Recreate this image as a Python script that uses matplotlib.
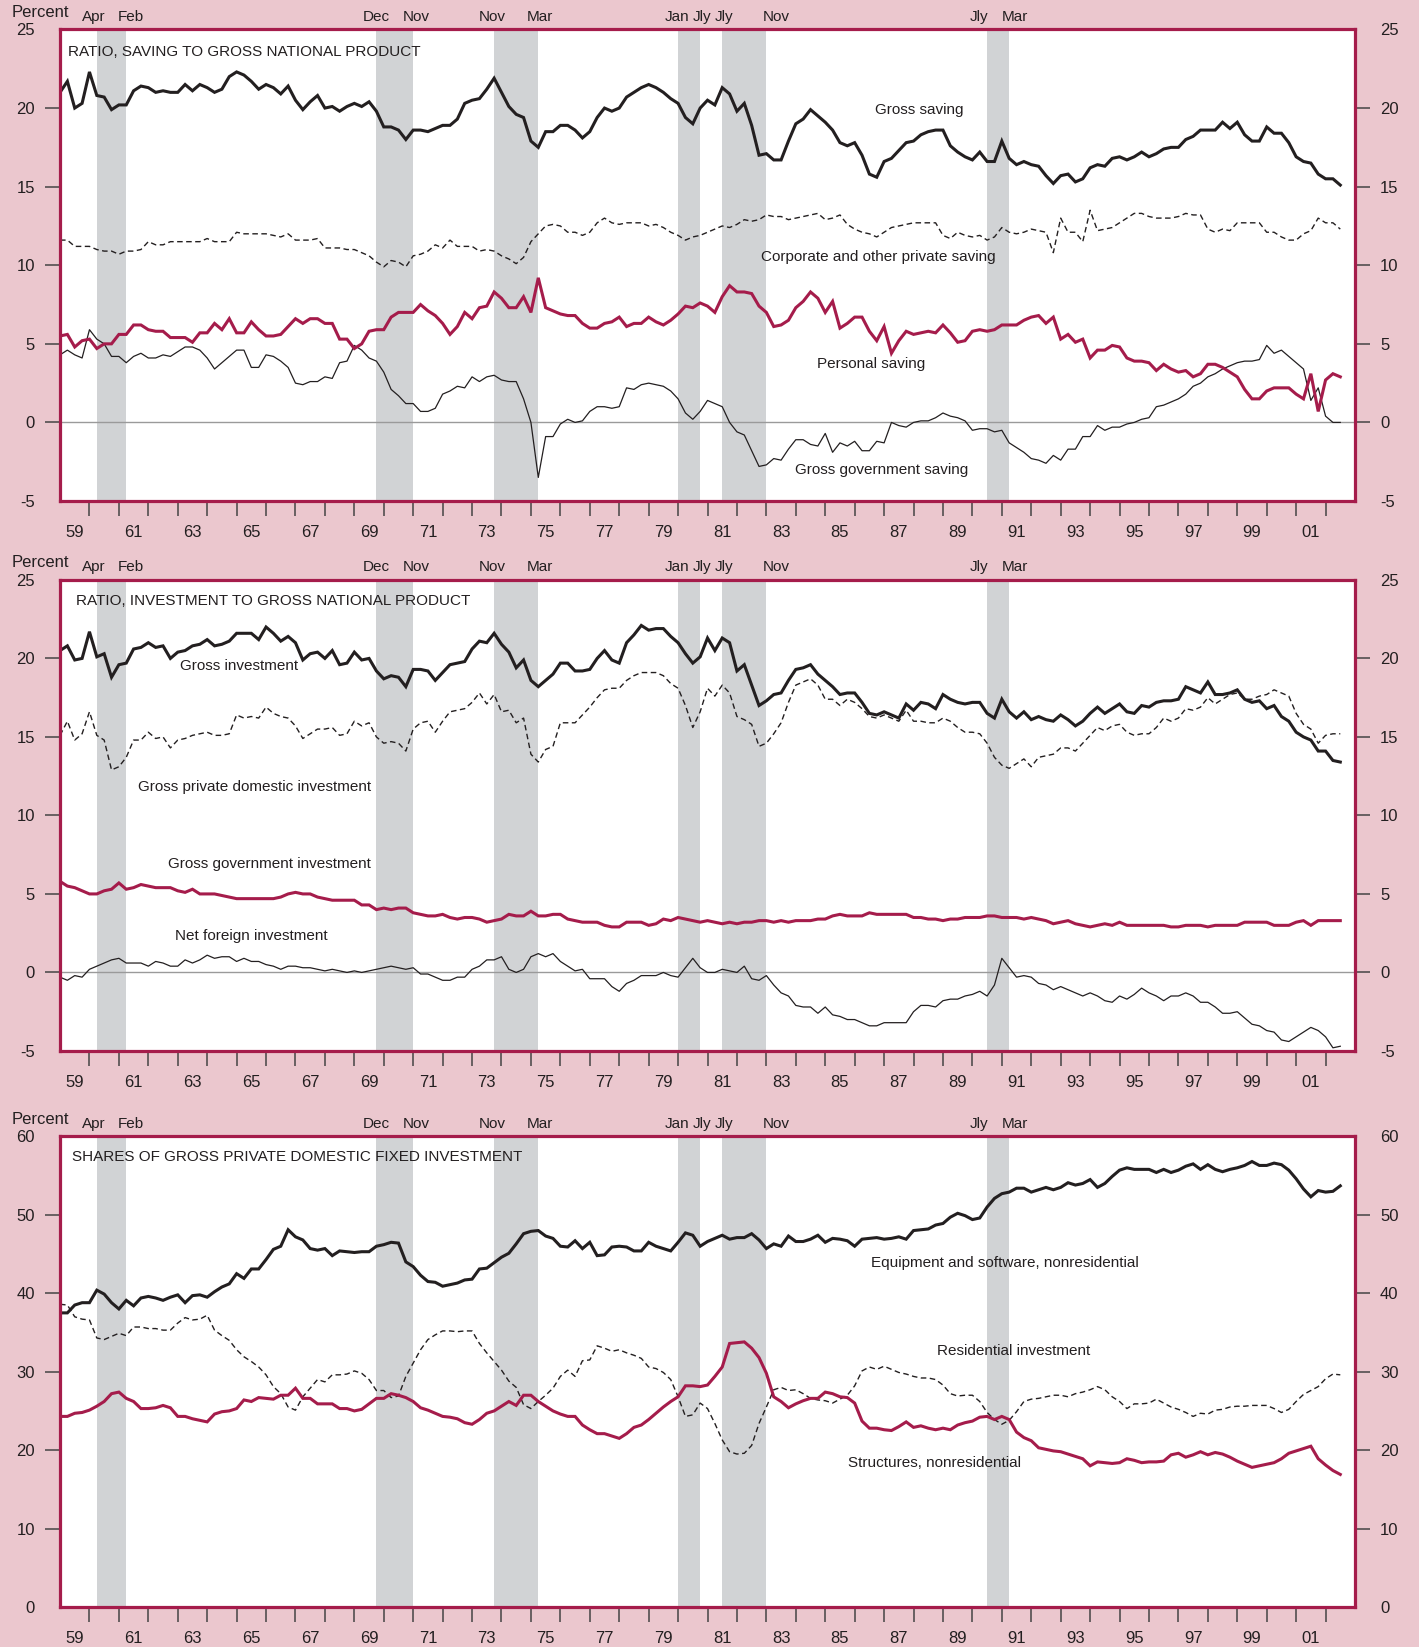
import matplotlib
matplotlib.use('Agg')

import matplotlib.pyplot as plt
import numpy as np
from matplotlib import font_manager

# quarterly observations, first one is 1959:Q1
START_YEAR = 1959

# --- saving, percent of GNP ---
gross_saving = [
    21.0, 21.7, 20.0, 20.3, 22.3, 20.8, 20.7, 19.9, 20.2, 20.2, 21.1, 21.4,
    21.3, 21.0, 21.1, 21.0, 21.0, 21.5, 21.1, 21.5, 21.3, 21.0, 21.2, 22.0,
    22.3, 22.1, 21.7, 21.2, 21.5, 21.3, 20.9, 21.4, 20.5, 19.9, 20.4, 20.8,
    20.0, 20.1, 19.8, 20.1, 20.3, 20.1, 20.4, 19.8, 18.8, 18.8, 18.6, 18.0,
    18.6, 18.6, 18.5, 18.7, 18.9, 18.9, 19.3, 20.3, 20.5, 20.6, 21.2, 21.9,
    21.0, 20.1, 19.6, 19.4, 17.9, 17.5, 18.5, 18.5, 18.9, 18.9, 18.6, 18.1,
    18.5, 19.4, 20.0, 19.8, 20.0, 20.7, 21.0, 21.3, 21.5, 21.3, 21.0, 20.6,
    20.3, 19.4, 19.0, 20.0, 20.5, 20.2, 21.3, 20.9, 19.8, 20.3, 18.9, 17.0,
    17.1, 16.7, 16.7, 17.9, 19.0, 19.3, 19.9, 19.5, 19.1, 18.6, 17.8, 17.6,
    17.8, 17.0, 15.8, 15.6, 16.6, 16.8, 17.3, 17.8, 17.9, 18.3, 18.5, 18.6,
    18.6, 17.6, 17.2, 16.9, 16.7, 17.2, 16.6, 16.6, 17.9, 16.8, 16.4, 16.6,
    16.4, 16.3, 15.7, 15.2, 15.7, 15.8, 15.3, 15.5, 16.2, 16.4, 16.3, 16.8,
    16.9, 16.7, 16.9, 17.2, 16.9, 17.1, 17.4, 17.5, 17.5, 18.0, 18.2, 18.6,
    18.6, 18.6, 19.1, 18.7, 19.1, 18.3, 17.9, 17.9, 18.8, 18.4, 18.4, 17.8,
    16.9, 16.6, 16.5, 15.8, 15.5, 15.5, 15.1]

corporate_saving = [
    11.6, 11.6, 11.2, 11.2, 11.2, 11.0, 10.9, 10.9, 10.7, 10.9, 10.9, 11.0,
    11.5, 11.3, 11.3, 11.5, 11.5, 11.5, 11.5, 11.5, 11.7, 11.5, 11.5, 11.5,
    12.1, 12.0, 12.0, 12.0, 12.0, 11.9, 11.8, 12.0, 11.6, 11.6, 11.6, 11.7,
    11.1, 11.1, 11.1, 11.0, 11.0, 10.8, 10.6, 10.2, 9.9, 10.3, 10.2, 9.9,
    10.6, 10.7, 10.9, 11.3, 11.1, 11.6, 11.2, 11.2, 11.2, 10.9, 11.0, 10.9,
    10.6, 10.4, 10.1, 10.5, 11.5, 12.0, 12.5, 12.6, 12.5, 12.1, 12.1, 11.9,
    12.1, 12.7, 13.0, 12.7, 12.6, 12.7, 12.7, 12.7, 12.5, 12.6, 12.4, 12.1,
    11.9, 11.6, 11.8, 11.9, 12.1, 12.3, 12.5, 12.4, 12.6, 12.9, 12.8, 12.9,
    13.2, 13.1, 13.1, 12.9, 13.0, 13.1, 13.2, 13.3, 12.9, 13.0, 13.2, 12.6,
    12.3, 12.1, 12.0, 11.8, 12.1, 12.4, 12.5, 12.6, 12.7, 12.7, 12.7, 12.7,
    11.9, 11.7, 12.1, 11.9, 11.8, 11.9, 11.6, 11.8, 12.4, 12.1, 12.0, 12.1,
    12.3, 12.2, 12.1, 10.8, 13.0, 12.1, 12.1, 11.5, 13.5, 12.2, 12.3, 12.4,
    12.7, 13.0, 13.3, 13.3, 13.1, 13.0, 13.0, 13.0, 13.1, 13.3, 13.2, 13.2,
    12.3, 12.1, 12.3, 12.2, 12.7, 12.7, 12.7, 12.7, 12.1, 12.1, 11.8, 11.6,
    11.6, 12.0, 12.2, 13.0, 12.7, 12.7, 12.3]

personal_saving = [
    5.5, 5.6, 4.8, 5.2, 5.3, 4.7, 5.0, 5.0, 5.6, 5.6, 6.2, 6.2,
    5.9, 5.8, 5.8, 5.4, 5.4, 5.4, 5.1, 5.7, 5.7, 6.3, 5.9, 6.6,
    5.7, 5.7, 6.4, 5.9, 5.5, 5.5, 5.6, 6.1, 6.6, 6.3, 6.6, 6.6,
    6.3, 6.3, 5.3, 5.3, 4.7, 5.0, 5.8, 5.9, 5.9, 6.7, 7.0, 7.0,
    7.0, 7.5, 7.1, 6.8, 6.3, 5.6, 6.1, 7.0, 6.6, 7.3, 7.4, 8.3,
    7.9, 7.3, 7.3, 8.0, 7.0, 9.2, 7.3, 7.1, 6.9, 6.8, 6.8, 6.3,
    6.0, 6.0, 6.3, 6.4, 6.7, 6.1, 6.3, 6.3, 6.7, 6.4, 6.2, 6.5,
    6.9, 7.4, 7.3, 7.6, 7.4, 7.0, 8.0, 8.7, 8.3, 8.3, 8.2, 7.4,
    7.0, 6.1, 6.2, 6.5, 7.3, 7.7, 8.3, 7.9, 7.0, 7.7, 6.0, 6.3,
    6.7, 6.7, 5.8, 5.2, 6.1, 4.4, 5.2, 5.8, 5.6, 5.7, 5.8, 5.7,
    6.2, 5.7, 5.1, 5.2, 5.8, 5.9, 5.8, 5.9, 6.2, 6.2, 6.2, 6.5,
    6.7, 6.8, 6.3, 6.7, 5.3, 5.6, 5.1, 5.3, 4.1, 4.6, 4.6, 4.9,
    4.8, 4.1, 3.9, 3.9, 3.8, 3.3, 3.7, 3.4, 3.2, 3.3, 2.9, 3.1,
    3.7, 3.7, 3.5, 3.2, 2.9, 2.1, 1.5, 1.5, 2.0, 2.2, 2.2, 2.2,
    1.8, 1.5, 3.1, 0.7, 2.7, 3.1, 2.9]

government_saving = [
    4.3, 4.6, 4.3, 4.1, 5.9, 5.3, 5.0, 4.2, 4.2, 3.8, 4.2, 4.4,
    4.1, 4.1, 4.3, 4.2, 4.5, 4.8, 4.8, 4.6, 4.1, 3.4, 3.8, 4.2,
    4.6, 4.6, 3.5, 3.5, 4.3, 4.2, 3.9, 3.5, 2.5, 2.4, 2.6, 2.6,
    2.9, 2.8, 3.8, 3.9, 4.9, 4.6, 4.1, 3.9, 3.2, 2.1, 1.7, 1.2,
    1.2, 0.7, 0.7, 0.9, 1.8, 2.0, 2.3, 2.2, 2.9, 2.6, 2.9, 3.0,
    2.7, 2.6, 2.6, 1.5, 0.0, -3.5, -0.9, -0.9, -0.1, 0.2, 0.0, 0.1,
    0.7, 1.0, 1.0, 0.9, 1.0, 2.2, 2.1, 2.4, 2.5, 2.4, 2.3, 2.0,
    1.5, 0.6, 0.2, 0.7, 1.4, 1.2, 1.0, 0.0, -0.6, -0.8, -1.8, -2.8,
    -2.7, -2.3, -2.4, -1.7, -1.1, -1.1, -1.4, -1.5, -0.7, -1.9, -1.3, -1.5,
    -1.2, -1.8, -1.8, -1.2, -1.3, 0.0, -0.2, -0.3, 0.0, 0.1, 0.1, 0.3,
    0.6, 0.4, 0.3, 0.1, -0.5, -0.4, -0.4, -0.6, -0.5, -1.3, -1.6, -1.9,
    -2.3, -2.4, -2.6, -2.1, -2.4, -1.7, -1.7, -0.9, -0.9, -0.2, -0.5, -0.3,
    -0.3, -0.1, 0.0, 0.2, 0.3, 1.0, 1.1, 1.3, 1.5, 1.8, 2.3, 2.5,
    2.9, 3.1, 3.4, 3.6, 3.8, 3.9, 3.9, 4.0, 4.9, 4.4, 4.6, 4.2,
    3.8, 3.4, 1.4, 2.2, 0.4, 0.0, 0.0]

# --- investment, percent of GNP ---
gross_investment = [
    20.5, 20.8, 19.9, 20.0, 21.7, 20.1, 20.3, 18.8, 19.6, 19.7, 20.6, 20.7,
    21.0, 20.7, 20.8, 20.0, 20.4, 20.5, 20.8, 20.9, 21.2, 20.8, 20.9, 21.1,
    21.6, 21.6, 21.6, 21.2, 22.0, 21.6, 21.1, 21.4, 21.0, 19.9, 20.3, 20.4,
    20.0, 20.5, 19.6, 19.7, 20.4, 19.9, 20.0, 19.2, 18.7, 18.9, 18.8, 18.2,
    19.3, 19.3, 19.2, 18.6, 19.1, 19.6, 19.7, 19.8, 20.6, 21.1, 21.0, 21.6,
    20.9, 20.4, 19.4, 19.9, 18.6, 18.2, 18.6, 19.0, 19.7, 19.7, 19.2, 19.2,
    19.3, 20.0, 20.5, 19.9, 19.7, 21.0, 21.5, 22.1, 21.8, 21.9, 21.9, 21.4,
    21.0, 20.3, 19.7, 20.1, 21.3, 20.5, 21.3, 21.0, 19.2, 19.6, 18.3, 17.0,
    17.3, 17.7, 17.8, 18.6, 19.3, 19.4, 19.6, 19.0, 18.6, 18.2, 17.7, 17.8,
    17.8, 17.2, 16.5, 16.4, 16.6, 16.4, 16.2, 17.1, 16.7, 17.2, 17.1, 16.8,
    17.7, 17.4, 17.2, 17.1, 17.2, 17.2, 16.5, 16.2, 17.4, 16.6, 16.2, 16.6,
    16.1, 16.3, 16.1, 16.0, 16.4, 16.1, 15.7, 16.0, 16.5, 16.9, 16.5, 16.8,
    17.1, 16.6, 16.5, 17.0, 16.9, 17.2, 17.3, 17.3, 17.4, 18.2, 18.0, 17.8,
    18.5, 17.7, 17.7, 17.8, 18.0, 17.4, 17.2, 17.3, 16.8, 17.0, 16.3, 16.0,
    15.3, 15.0, 14.8, 14.1, 14.1, 13.5, 13.4]

private_investment = [
    15.1, 16.0, 14.8, 15.2, 16.6, 15.1, 14.8, 12.9, 13.1, 13.7, 14.8, 14.8,
    15.3, 14.9, 15.0, 14.3, 14.8, 14.9, 15.1, 15.2, 15.3, 15.1, 15.1, 15.2,
    16.4, 16.2, 16.3, 16.2, 16.9, 16.5, 16.3, 16.2, 15.7, 14.9, 15.2, 15.5,
    15.5, 15.6, 15.1, 15.2, 16.0, 15.7, 15.9, 15.0, 14.6, 14.7, 14.6, 14.1,
    15.5, 15.9, 16.0, 15.3, 16.0, 16.6, 16.7, 16.8, 17.2, 17.8, 17.1, 17.7,
    16.6, 16.7, 15.9, 16.2, 13.9, 13.4, 14.2, 14.4, 15.9, 15.9, 15.9, 16.4,
    16.9, 17.5, 18.0, 18.1, 18.1, 18.6, 18.9, 19.1, 19.1, 19.1, 18.9, 18.4,
    18.1, 17.0, 15.6, 16.6, 18.1, 17.6, 18.3, 17.8, 16.3, 16.1, 15.8, 14.4,
    14.6, 15.2, 15.9, 17.2, 18.3, 18.5, 18.7, 18.3, 17.4, 17.4, 17.0, 17.4,
    17.2, 16.8, 16.3, 16.2, 16.4, 16.2, 16.0, 16.7, 16.0, 16.0, 15.9, 15.9,
    16.2, 16.0, 15.6, 15.3, 15.3, 15.2, 14.6, 13.7, 13.2, 13.0, 13.3, 13.6,
    13.1, 13.7, 13.8, 13.9, 14.3, 14.3, 14.1, 14.6, 15.1, 15.6, 15.4, 15.7,
    15.8, 15.3, 15.1, 15.2, 15.2, 15.6, 16.2, 16.0, 16.2, 16.8, 16.7, 16.9,
    17.5, 17.1, 17.4, 17.7, 17.8, 17.4, 17.4, 17.6, 17.7, 18.0, 17.8, 17.6,
    16.5, 15.8, 15.5, 14.6, 15.1, 15.2, 15.2]

government_investment = [
    5.8, 5.5, 5.4, 5.2, 5.0, 5.0, 5.2, 5.3, 5.7, 5.3, 5.4, 5.6,
    5.5, 5.4, 5.4, 5.4, 5.2, 5.1, 5.3, 5.0, 5.0, 5.0, 4.9, 4.8,
    4.7, 4.7, 4.7, 4.7, 4.7, 4.7, 4.8, 5.0, 5.1, 5.0, 5.0, 4.8,
    4.7, 4.6, 4.6, 4.6, 4.6, 4.3, 4.3, 4.0, 4.1, 4.0, 4.1, 4.1,
    3.8, 3.7, 3.6, 3.6, 3.7, 3.5, 3.4, 3.5, 3.5, 3.4, 3.2, 3.3,
    3.4, 3.7, 3.6, 3.6, 3.9, 3.6, 3.6, 3.7, 3.7, 3.4, 3.3, 3.2,
    3.2, 3.2, 3.0, 2.9, 2.9, 3.2, 3.2, 3.2, 3.0, 3.1, 3.4, 3.3,
    3.5, 3.4, 3.3, 3.2, 3.3, 3.2, 3.1, 3.2, 3.1, 3.2, 3.2, 3.3,
    3.3, 3.2, 3.3, 3.2, 3.3, 3.3, 3.3, 3.4, 3.4, 3.6, 3.7, 3.6,
    3.6, 3.6, 3.8, 3.7, 3.7, 3.7, 3.7, 3.7, 3.5, 3.5, 3.4, 3.4,
    3.3, 3.4, 3.4, 3.5, 3.5, 3.5, 3.6, 3.6, 3.5, 3.5, 3.5, 3.4,
    3.5, 3.4, 3.3, 3.1, 3.2, 3.3, 3.1, 3.0, 2.9, 3.0, 3.1, 3.0,
    3.2, 3.0, 3.0, 3.0, 3.0, 3.0, 3.0, 2.9, 2.9, 3.0, 3.0, 3.0,
    2.9, 3.0, 3.0, 3.0, 3.0, 3.2, 3.2, 3.2, 3.2, 3.0, 3.0, 3.0,
    3.2, 3.3, 3.0, 3.3, 3.3, 3.3, 3.3]

net_foreign_investment = [
    -0.3, -0.5, -0.2, -0.3, 0.2, 0.4, 0.6, 0.8, 0.9, 0.6, 0.6, 0.6,
    0.4, 0.7, 0.6, 0.4, 0.4, 0.8, 0.6, 0.8, 1.1, 0.9, 1.0, 1.0,
    0.7, 0.9, 0.7, 0.7, 0.5, 0.4, 0.2, 0.4, 0.4, 0.3, 0.3, 0.2,
    0.1, 0.2, 0.1, 0.0, 0.1, 0.0, 0.1, 0.2, 0.3, 0.4, 0.3, 0.2,
    0.3, -0.1, -0.1, -0.3, -0.5, -0.5, -0.3, -0.3, 0.2, 0.4, 0.8, 0.8,
    1.0, 0.2, 0.0, 0.2, 1.0, 1.2, 1.0, 1.2, 0.7, 0.4, 0.1, 0.2,
    -0.4, -0.4, -0.4, -0.9, -1.2, -0.7, -0.5, -0.2, -0.2, -0.2, 0.0, -0.2,
    -0.3, 0.3, 0.9, 0.3, 0.0, 0.0, 0.2, 0.1, 0.0, 0.4, -0.4, -0.5,
    -0.2, -0.8, -1.3, -1.5, -2.1, -2.2, -2.2, -2.6, -2.2, -2.7, -2.8, -3.0,
    -3.0, -3.2, -3.4, -3.4, -3.2, -3.2, -3.2, -3.2, -2.5, -2.1, -2.1, -2.2,
    -1.8, -1.7, -1.7, -1.5, -1.4, -1.2, -1.5, -0.8, 0.9, 0.3, -0.3, -0.2,
    -0.3, -0.7, -0.8, -1.1, -0.9, -1.1, -1.3, -1.5, -1.3, -1.5, -1.8, -1.9,
    -1.5, -1.7, -1.4, -1.0, -1.3, -1.5, -1.8, -1.5, -1.5, -1.3, -1.5, -1.9,
    -1.9, -2.2, -2.6, -2.6, -2.5, -2.9, -3.3, -3.4, -3.7, -3.8, -4.3, -4.4,
    -4.1, -3.8, -3.5, -3.7, -4.1, -4.8, -4.7]

# --- shares of gross private domestic fixed investment, percent ---
equipment_share = [
    37.5, 37.5, 38.5, 38.8, 38.8, 40.4, 39.9, 38.8, 38.0, 39.1,
    38.4, 39.4, 39.6, 39.4, 39.1, 39.5, 39.8, 38.8, 39.7, 39.8,
    39.5, 40.2, 40.8, 41.2, 42.5, 41.9, 43.1, 43.1, 44.3, 45.6,
    46.0, 48.1, 47.2, 46.8, 45.7, 45.5, 45.7, 44.8, 45.4, 45.3,
    45.2, 45.3, 45.3, 46.0, 46.2, 46.5, 46.4, 44.0, 43.4, 42.3,
    41.5, 41.4, 40.9, 41.1, 41.3, 41.7, 41.8, 43.1, 43.2, 43.9,
    44.6, 45.1, 46.3, 47.6, 47.9, 48.0, 47.3, 47.0, 46.0, 45.9,
    46.7, 45.7, 46.5, 44.8, 44.9, 45.9, 46.0, 45.9, 45.4, 45.4,
    46.5, 46.0, 45.7, 45.4, 46.5, 47.7, 47.4, 46.0,
    46.6, 47.0, 47.4, 46.9, 47.1, 47.1, 47.6, 46.8, 45.7, 46.3,
    46.0, 47.3, 46.6, 46.6, 46.9, 47.4, 46.5, 47.0, 46.9, 46.7,
    46.0, 46.9, 47.0, 47.1, 46.9, 47.0, 47.2, 46.9, 48.0, 48.1,
    48.2, 48.7, 48.9, 49.7, 50.2, 49.9, 49.4, 49.6, 51.0, 52.1,
    52.7, 52.9, 53.4, 53.4, 52.9, 53.2, 53.5, 53.2, 53.5, 54.1,
    53.8, 54.0, 54.5, 53.5, 54.0, 54.9, 55.7, 56.0, 55.8, 55.8,
    55.8, 55.4, 55.8, 55.4, 55.7, 56.2, 56.5, 55.8, 56.4, 55.8,
    55.5, 55.8, 56.0, 56.3, 56.8, 56.3, 56.3, 56.6, 56.4, 55.7,
    54.6, 53.3, 52.3, 53.1, 52.9, 53.0, 53.7]

residential_share = [
    38.6, 38.5, 37.0, 36.7, 36.6, 34.3, 34.1, 34.5, 34.9, 34.6,
    35.7, 35.7, 35.5, 35.5, 35.3, 35.3, 36.2, 36.9, 36.6, 36.7,
    37.2, 35.3, 34.6, 34.0, 32.8, 31.9, 31.3, 30.6, 29.6, 28.1,
    27.2, 25.5, 25.1, 26.8, 27.9, 29.0, 28.7, 29.6, 29.6, 29.7,
    30.1, 29.8, 29.0, 27.6, 27.6, 26.7, 26.9, 29.4, 31.1, 32.8,
    34.1, 34.7, 35.2, 35.2, 35.1, 35.2, 35.2, 33.6, 32.4, 31.3,
    30.2, 28.8, 28.0, 25.8, 25.3, 26.2, 27.0, 27.9, 29.4, 30.2,
    29.4, 31.4, 31.5, 33.3, 33.0, 32.6, 32.8, 32.4, 32.1, 31.7,
    30.6, 30.4, 29.9, 29.0, 26.8, 24.3, 24.5, 26.0,
    25.3, 23.4, 21.3, 19.8, 19.5, 19.6, 20.6, 23.4, 25.5, 27.7,
    28.0, 27.6, 27.7, 27.2, 26.6, 26.4, 26.3, 26.0, 26.5, 27.0,
    28.2, 30.1, 30.6, 30.3, 30.7, 30.3, 29.9, 29.7, 29.4, 29.2,
    29.2, 29.0, 28.3, 27.2, 26.9, 27.0, 27.0, 26.2, 24.8, 23.9,
    23.3, 23.8, 24.9, 26.2, 26.5, 26.6, 26.8, 27.0, 27.0, 26.8,
    27.2, 27.4, 27.7, 28.1, 27.7, 26.8, 26.2, 25.3, 25.9, 25.9,
    26.0, 26.5, 26.0, 25.5, 25.2, 24.8, 24.3, 24.7, 24.6, 25.1,
    25.2, 25.5, 25.6, 25.6, 25.7, 25.7, 25.7, 25.3, 24.8, 25.2,
    26.2, 27.1, 27.6, 28.1, 29.1, 29.7, 29.6]

structures_share = [
    24.3, 24.3, 24.7, 24.8, 25.1, 25.6, 26.2, 27.2, 27.4, 26.6,
    26.2, 25.3, 25.3, 25.4, 25.7, 25.4, 24.3, 24.3, 24.0, 23.8,
    23.6, 24.6, 24.9, 25.0, 25.3, 26.4, 26.2, 26.7, 26.6, 26.5,
    27.0, 27.0, 27.9, 26.6, 26.6, 25.9, 25.9, 25.9, 25.3, 25.3,
    25.0, 25.2, 25.9, 26.6, 26.6, 27.2, 27.0, 26.7, 26.2, 25.4,
    25.1, 24.7, 24.3, 24.2, 24.0, 23.5, 23.3, 23.9, 24.7, 25.0,
    25.6, 26.2, 25.7, 27.0, 27.0, 26.2, 25.6, 25.0, 24.6, 24.3,
    24.3, 23.2, 22.6, 22.1, 22.1, 21.8, 21.5, 22.1, 22.9, 23.2,
    23.9, 24.7, 25.5, 26.2, 26.8, 28.2, 28.2, 28.1,
    28.3, 29.4, 30.6, 33.6, 33.7, 33.8, 33.0, 31.8, 29.8, 26.8,
    26.2, 25.4, 25.9, 26.3, 26.6, 26.6, 27.4, 27.2, 26.8, 26.7,
    26.0, 23.7, 22.8, 22.8, 22.6, 22.5, 23.0, 23.6, 22.9, 23.1,
    22.8, 22.6, 22.8, 22.6, 23.2, 23.5, 23.7, 24.2, 24.3, 23.9,
    24.3, 23.9, 22.3, 21.6, 21.2, 20.3, 20.1, 19.9, 19.8, 19.5,
    19.2, 18.9, 18.0, 18.5, 18.4, 18.3, 18.4, 18.9, 18.7, 18.4,
    18.5, 18.5, 18.6, 19.4, 19.6, 19.1, 19.4, 19.8, 19.4, 19.7,
    19.5, 19.1, 18.6, 18.2, 17.8, 18.0, 18.2, 18.4, 18.9, 19.6,
    19.9, 20.2, 20.5, 18.9, 18.1, 17.4, 16.9]

# recessions, shaded by quarter (start, end in years)
recessions = [(1960.25, 1961.25), (1969.75, 1971.0), (1973.75, 1975.25),
              (1980.0, 1980.75), (1981.5, 1983.0), (1990.5, 1991.25)]
recession_months = ['Apr', 'Feb', 'Dec', 'Nov', 'Nov', 'Mar',
                    'Jan', 'Jly', 'Jly', 'Nov', 'Jly', 'Mar']
# where the month names sit above the frame
recession_month_x = [1960.14, 1961.39, 1969.74, 1971.1, 1973.7, 1975.31,
                     1979.95, 1980.81, 1981.56, 1983.34, 1990.23, 1991.44]

PINK = '#ebc7ce'
CRIMSON = '#a51c4b'
BAND = '#d1d3d5'
INK = '#231f20'

names = set(f.name for f in font_manager.fontManager.ttflist)
if 'Liberation Sans Narrow' in names:
    NARROW, NSIZE = 'Liberation Sans Narrow', 13
else:
    NARROW, NSIZE = 'Liberation Sans', 11
plt.rcParams['font.family'] = ['Liberation Sans', 'DejaVu Sans']
plt.rcParams['text.color'] = INK


def quarters(series):
    return START_YEAR + np.arange(len(series)) / 4.0


def setup_panel(ax, title, title_off, yticks):
    ax.set_xlim(1959, 2003)
    ax.set_ylim(yticks[0], yticks[-1])
    for (a, b) in recessions:
        ax.axvspan(a, b, color=BAND, lw=0, zorder=0)

    for sp in ax.spines.values():
        sp.set_color(CRIMSON)
        sp.set_linewidth(2.3)
        sp.set_zorder(10)

    # y axis on both sides
    ax.set_yticks(yticks)
    ax.set_yticklabels([str(v) for v in yticks])
    ax.tick_params(axis='y', direction='out', length=11, width=1.1, color='#444444',
                   labelsize=12, pad=7, left=True, right=True,
                   labelleft=True, labelright=True, labelcolor=INK)
    ticks = ax.yaxis.get_major_ticks()
    for t in (ticks[0], ticks[-1]):
        t.tick1line.set_visible(False)
        t.tick2line.set_visible(False)

    # x axis: ticks at year boundaries, labels centred on odd years
    ax.set_xticks(np.arange(1960, 2003))
    ax.set_xticklabels([])
    odd = np.arange(1959, 2003, 2)
    ax.set_xticks(odd + 0.5, minor=True)
    ax.set_xticklabels(['%02d' % (y % 100) for y in odd], minor=True)
    ax.tick_params(axis='x', which='major', direction='out', length=10.5,
                   width=1.1, color='#444444')
    ax.tick_params(axis='x', which='minor', length=0, pad=17, labelsize=12,
                   labelcolor=INK)

    ax.annotate(title, xy=(0, 1), xycoords='axes fraction', xytext=title_off,
                textcoords='offset points', ha='left', va='center',
                family=NARROW, fontsize=NSIZE)
    ax.annotate('Percent', xy=(0, 1), xycoords='axes fraction', xytext=(-14, 12.5),
                textcoords='offset points', ha='center', va='center', fontsize=12)
    for name, xm in zip(recession_months, recession_month_x):
        ax.annotate(name, xy=(xm, 1), xycoords=('data', 'axes fraction'),
                    xytext=(0, 4), textcoords='offset points', ha='center',
                    va='bottom', family=NARROW, fontsize=NSIZE)


def label(ax, x, y, s):
    ax.text(x, y, s, ha='center', va='center', family=NARROW, fontsize=NSIZE, zorder=6)


def thick(ax, s, color=INK):
    ax.plot(quarters(s), s, color=color, lw=2.2, zorder=5, solid_joinstyle='miter')


def thin(ax, s):
    ax.plot(quarters(s), s, color=INK, lw=0.9, zorder=4)


def dashed(ax, s):
    ax.plot(quarters(s), s, color=INK, lw=1.0, dashes=(4, 2.5), zorder=4)


fig = plt.figure(figsize=(14.19, 16.47), dpi=100)
fig.patch.set_facecolor(PINK)

left, width = 0.0423, 0.9126
ax1 = fig.add_axes([left, 0.6958, width, 0.2863])
ax2 = fig.add_axes([left, 0.3619, width, 0.2860])
ax3 = fig.add_axes([left, 0.0243, width, 0.2857])

# saving
setup_panel(ax1, 'RATIO, SAVING TO GROSS NATIONAL PRODUCT', (5.5, -16.5),
            [-5, 0, 5, 10, 15, 20, 25])
ax1.axhline(0, color='#9a9a9a', lw=1.0, zorder=2)
thin(ax1, government_saving)
dashed(ax1, corporate_saving)
thick(ax1, personal_saving, CRIMSON)
thick(ax1, gross_saving)
label(ax1, 1988.2, 19.9, 'Gross saving')
label(ax1, 1986.8, 10.5, 'Corporate and other private saving')
label(ax1, 1986.55, 3.7, 'Personal saving')
label(ax1, 1986.9, -3.0, 'Gross government saving')

# investment
setup_panel(ax2, 'RATIO, INVESTMENT TO GROSS NATIONAL PRODUCT', (11.5, -15),
            [-5, 0, 5, 10, 15, 20, 25])
ax2.axhline(0, color='#9a9a9a', lw=1.0, zorder=2)
thin(ax2, net_foreign_investment)
dashed(ax2, private_investment)
thick(ax2, government_investment, CRIMSON)
thick(ax2, gross_investment)
label(ax2, 1965.1, 19.5, 'Gross investment')
label(ax2, 1965.6, 11.8, 'Gross private domestic investment')
label(ax2, 1966.1, 6.9, 'Gross government investment')
label(ax2, 1965.5, 2.3, 'Net foreign investment')

# shares
setup_panel(ax3, 'SHARES OF GROSS PRIVATE DOMESTIC FIXED INVESTMENT', (8.5, -14.5),
            [0, 10, 20, 30, 40, 50, 60])
dashed(ax3, residential_share)
thick(ax3, structures_share, CRIMSON)
thick(ax3, equipment_share)
label(ax3, 1991.1, 43.9, 'Equipment and software, nonresidential')
label(ax3, 1991.4, 32.7, 'Residential investment')
label(ax3, 1988.7, 18.3, 'Structures, nonresidential')

fig.savefig('out.png', dpi=100, facecolor=PINK)
